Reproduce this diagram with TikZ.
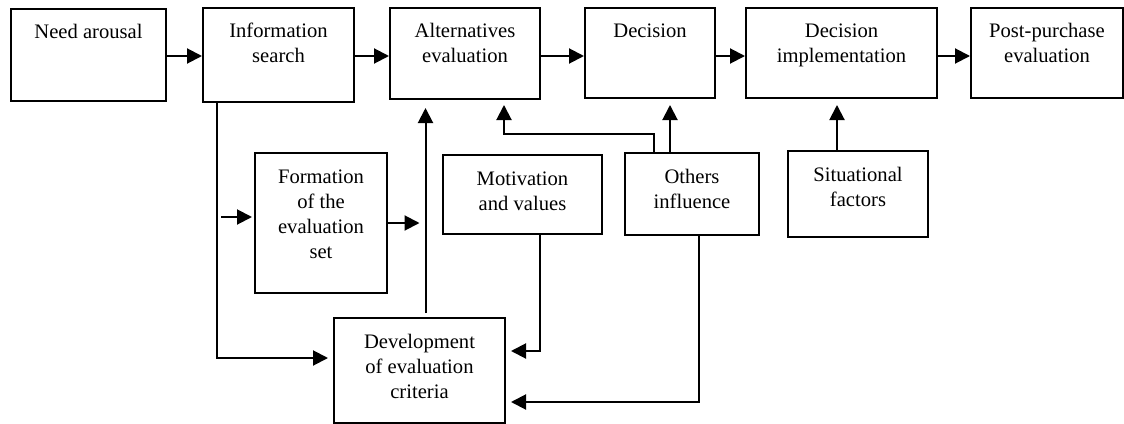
\documentclass[tikz,border=0pt]{standalone}
\usepackage{fontspec}
\setmainfont{Liberation Serif}
\usetikzlibrary{arrows.meta}
% nội dung một ô: rộng, cao (tính theo px), chữ
\newcommand{\noidung}[3]{\parbox[t][\dimexpr #2pt/2\relax][t]{\dimexpr #1pt/2\relax}{\centering\vspace*{6.25pt}\strut #3\par}}
\begin{document}
\begin{tikzpicture}[>={Triangle[length=7.5pt,width=7.5pt]},line join=miter,line width=1pt,
	font=\fontsize{10.3pt}{12.5pt}\selectfont,x=0.5pt,y=-0.5pt,
	khung/.style={draw,inner sep=0pt,anchor=north west}]
	\useasboundingbox (0,0) rectangle (1124,423);
	% Vẽ hàng ô trên cùng
	\node[khung] (need) at (10,8) {\noidung{155}{92}{Need arousal}};
	\node[khung] (info) at (202,7) {\noidung{151}{94}{Information\\ search}};
	\node[khung] (alt) at (389,7) {\noidung{150}{91}{Alternatives\\ evaluation}};
	\node[khung] (dec) at (584,7) {\noidung{130}{90}{Decision}};
	\node[khung] (impl) at (745,7) {\noidung{191}{90}{Decision\\ implementation}};
	\node[khung] (post) at (970,7) {\noidung{152}{90}{Post-purchase\\ evaluation}};
	% Vẽ các ô phía dưới
	\node[khung] (form) at (254,152) {\noidung{132}{140}{Formation\\ of the\\ evaluation\\ set}};
	\node[khung] (motiv) at (442,154) {\noidung{159}{79}{Motivation\\ and values}};
	\node[khung] (others) at (624,152) {\noidung{134}{82}{Others\\ influence}};
	\node[khung] (sit) at (787,150) {\noidung{140}{86}{Situational\\ factors}};
	\node[khung] (dev) at (333,317) {\noidung{171}{105}{Development\\ of evaluation\\ criteria}};
	% Mũi tên giữa các ô hàng trên
	\coordinate (hang) at (0,56);
	\foreach \a/\b in {need/info,info/alt,alt/dec,dec/impl,impl/post}
	\draw[->] (\a.east |- hang)-- (\b.west |- hang);
	% Nhánh đi xuống từ Information search
	\coordinate (trai) at ([xshift=7.5pt]info.south west);
	\coordinate (vao) at ([yshift=3pt]form.west);
	\draw[->,shorten >=2.5pt] (trai) |- ([yshift=6.25pt]dev.west);
	\draw[->,shorten <=2pt,shorten >=1pt] (trai |- vao)-- (vao);
	% Đường đi lên Alternatives evaluation
	\coordinate (doc) at ([xshift=3pt]dev.north);
	\draw[->,shorten <=2pt,shorten >=4pt] (doc)-- (doc |- alt.south);
	\draw[->,shorten >=3pt] (form.east)-- (form.east -| doc);
	% Motivation và Others đi vào Development
	\coordinate (dl) at ([xshift=8.75pt]motiv.south);
	\draw[->,shorten >=2.5pt] (dl) |- ([yshift=9.75pt]dev.east);
	\coordinate (ob) at ([xshift=3.5pt]others.south);
	\draw[->,shorten >=2.5pt] (ob) |- ([yshift=-15.75pt]dev.east);
	% Others đi lên Alternatives và Decision
	\draw[->,shorten >=2.5pt] ([xshift=-19pt]others.north)-- ++(0,-18) -| ([xshift=19.5pt]alt.south);
	\coordinate (oi) at ([xshift=-11pt]others.north);
	\draw[->,shorten >=3pt] (oi)-- (oi |- dec.south);
	% Situational factors đi lên
	\coordinate (sn) at ([xshift=-10.5pt]sit.north);
	\draw[->,shorten >=3pt] (sn)-- (sn |- impl.south);
\end{tikzpicture}
\end{document}
